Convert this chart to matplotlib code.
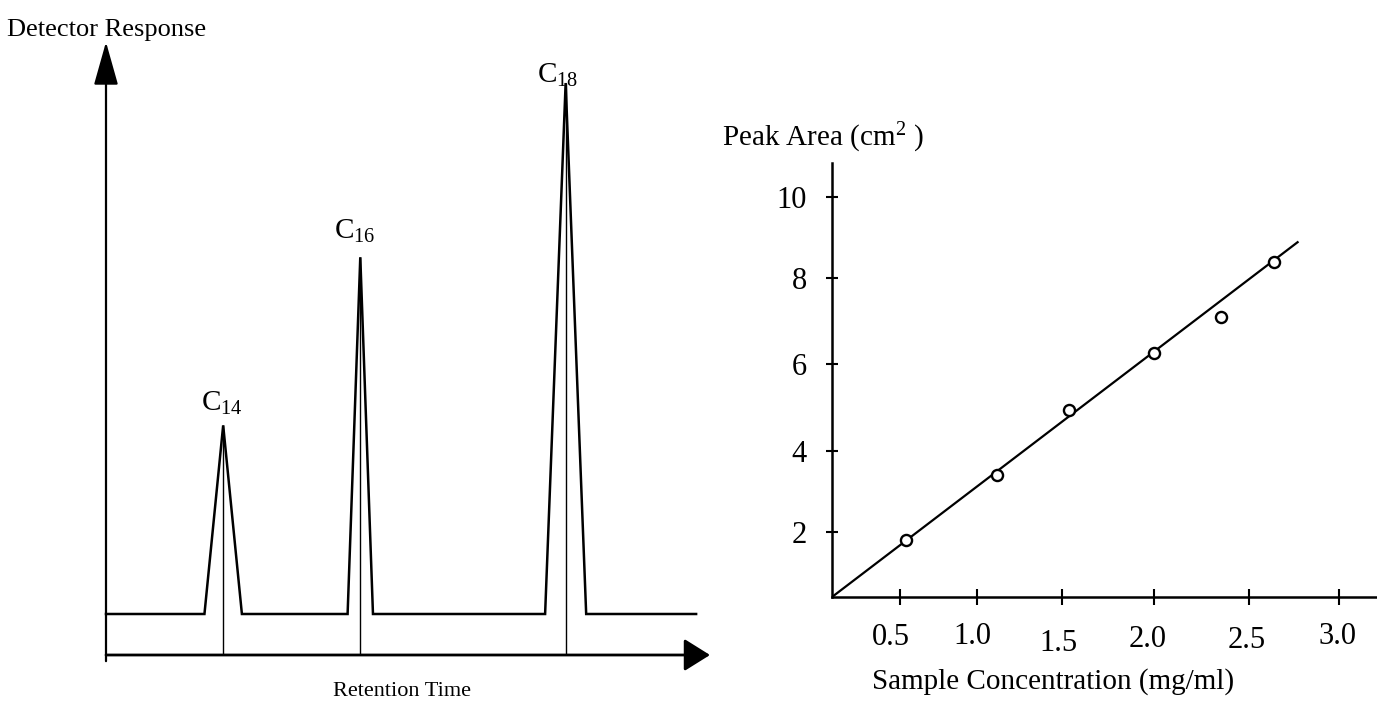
import numpy as np
import matplotlib
matplotlib.use('Agg')
import matplotlib.pyplot as plt
from matplotlib.transforms import ScaledTranslation

plt.rcParams['font.family'] = ['Liberation Serif', 'DejaVu Serif']
plt.rcParams['mathtext.fontset'] = 'custom'
plt.rcParams['mathtext.rm'] = 'Liberation Serif'
plt.rcParams['mathtext.it'] = 'Liberation Serif:italic'

# chromatogram (arbitrary time / response units)
peak_names = ['C$_{14}$', 'C$_{16}$', 'C$_{18}$']
peak_times = [1.94, 4.21, 7.61]
peak_heights = [4.6, 8.7, 12.95]
peak_half_widths = [0.31, 0.21, 0.34]
run_end = 9.77

# calibration curve
conc = [0.54, 1.12, 1.54, 2.0, 2.35, 2.64]
area = [1.76, 3.41, 4.95, 6.26, 7.10, 8.38]
fit_conc = [0.0, 2.77]
fit_area = [0.0, 8.88]

conc_ticks = [0.5, 1.0, 1.5, 2.0, 2.5, 3.0]
conc_labels = ['0.5', '1.0', '1.5', '2.0', '2.5', '3.0']
area_ticks = [2, 4, 6, 8, 10]

# the hand drawn axes are not evenly spaced, so each tick goes where it was drawn
x_cal_val = [-1.0, 0.0, 0.5, 1.0, 1.5, 2.0, 2.5, 3.0, 4.0]
x_cal_pos = [-136, 0, 68, 145, 230, 322, 417, 507, 687]
y_cal_val = [-2, 0, 2, 4, 6, 8, 10, 12]
y_cal_pos = [-65, 0, 65, 146, 233, 319.3, 400, 480]


def x_fwd(v):
    return np.interp(v, x_cal_val, x_cal_pos)

def x_inv(p):
    return np.interp(p, x_cal_pos, x_cal_val)

def y_fwd(v):
    return np.interp(v, y_cal_val, y_cal_pos)

def y_inv(p):
    return np.interp(p, y_cal_pos, y_cal_val)


W, H = 1377, 718
fig = plt.figure(figsize=(W / 100, H / 100), dpi=100)

# ---------------- left: chromatogram ----------------
ax1 = fig.add_axes([106 / W, 63 / H, 604 / W, 613 / H])
ax1.set_xlim(0, 10)
ax1.set_ylim(-1, 13.95)
ax1.axis('off')

t = [0.0]
r = [0.0]
for c, h, w in zip(peak_times, peak_heights, peak_half_widths):
    t += [c - w, c, c + w]
    r += [0.0, h, 0.0]
t.append(run_end)
r.append(0.0)
ax1.plot(t, r, color='black', lw=1.8, solid_joinstyle='miter', clip_on=False)
ax1.vlines(peak_times, -1, peak_heights, color='black', lw=1.0, clip_on=False)

offsets = [(-1, 6), (-4, 9), (-6, -4)]
for name, c, h, off in zip(peak_names, peak_times, peak_heights, offsets):
    ax1.annotate(name, (c, h), xytext=off, textcoords='offset points',
                 ha='center', va='bottom', fontsize=21)

# axes drawn as arrows
ax1.annotate('', xy=(0, 13.95), xytext=(0, -1.15),
             arrowprops=dict(arrowstyle='-|>,head_length=1.35,head_width=0.38',
                             mutation_scale=20, lw=1.6, color='black',
                             shrinkA=0, shrinkB=0))
ax1.annotate('', xy=(10, -1), xytext=(0, -1),
             arrowprops=dict(arrowstyle='-|>,head_length=0.8,head_width=0.5',
                             mutation_scale=20, lw=2.0, color='black',
                             shrinkA=0, shrinkB=0))

fig.text(107 / W, 1 - 30 / H, 'Detector Response', ha='center', va='center', fontsize=19)
fig.text(402 / W, 1 - 691 / H, 'Retention Time', ha='center', va='center', fontsize=16)

# ---------------- right: calibration ----------------
ax2 = fig.add_axes([832 / W, 121 / H, 545 / W, 434 / H])
ax2.set_xscale('function', functions=(x_fwd, x_inv))
ax2.set_yscale('function', functions=(y_fwd, y_inv))
ax2.set_xlim(0, x_inv(545))
ax2.set_ylim(0, y_inv(434))

ax2.plot(fit_conc, fit_area, color='black', lw=1.6)
ax2.plot(conc, area, linestyle='none', marker='o', markersize=8,
         markerfacecolor='white', markeredgecolor='black', markeredgewidth=1.7)

for s in ['top', 'right']:
    ax2.spines[s].set_visible(False)
for s in ['left', 'bottom']:
    ax2.spines[s].set_linewidth(1.8)

ax2.set_xticks(conc_ticks)
ax2.set_xticklabels(conc_labels)
ax2.set_yticks(area_ticks)
ax2.xaxis.set_minor_locator(matplotlib.ticker.NullLocator())
ax2.yaxis.set_minor_locator(matplotlib.ticker.NullLocator())
ax2.tick_params(axis='x', direction='inout', length=12, width=1.5, pad=11, labelsize=22)
ax2.tick_params(axis='y', direction='inout', length=8, width=1.5, pad=14, labelsize=22)

# hand lettering sits a little off each tick
nudges = [(-9, -2), (-5, -1), (-4, -8), (-6, -4), (-2, -5), (-1, -1)]
for tick, (dx, dy) in zip(ax2.xaxis.get_major_ticks(), nudges):
    tick.label1.set_transform(tick.label1.get_transform() +
                              ScaledTranslation(dx / 100, dy / 100, fig.dpi_scale_trans))

fig.text(722 / W, 1 - 138 / H, 'Peak Area (cm$^{2}$ )', ha='left', va='center', fontsize=21)
fig.text(1053 / W, 1 - 682 / H, 'Sample Concentration (mg/ml)', ha='center', va='center', fontsize=21)

fig.savefig('out.png', dpi=100)
